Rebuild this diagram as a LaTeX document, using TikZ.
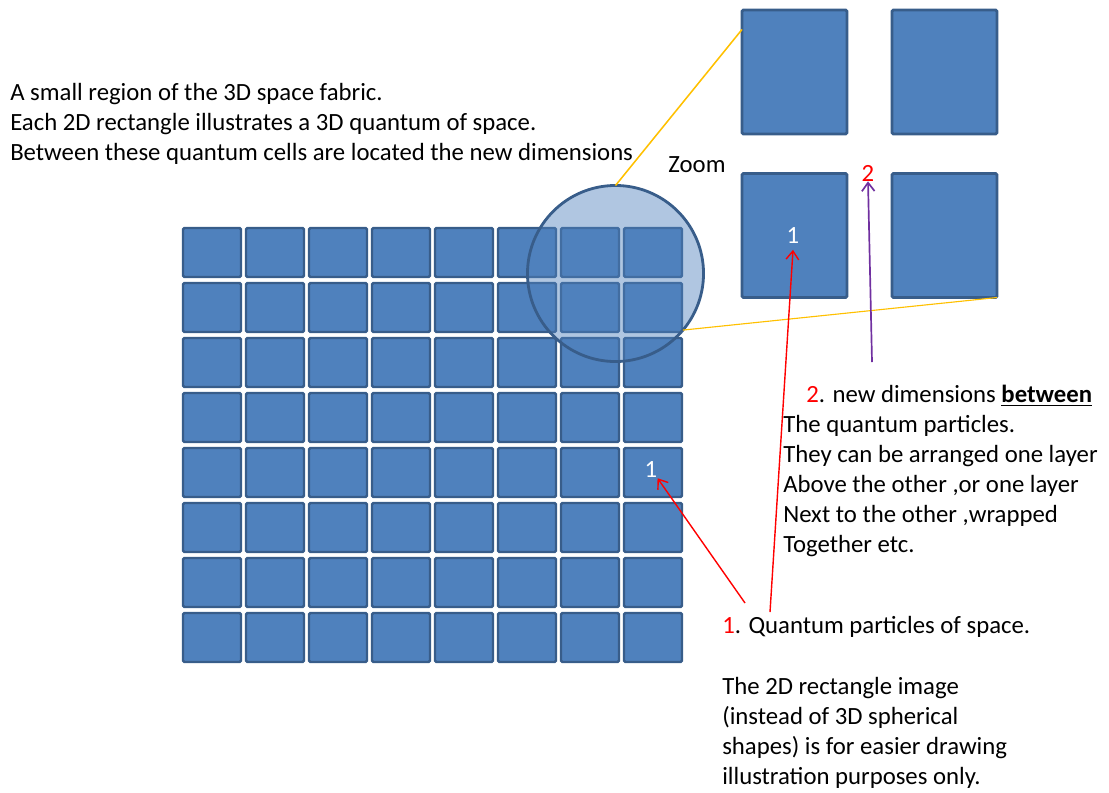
\documentclass[tikz,border=0pt]{standalone}
\usepackage{fontspec}
\setmainfont{Carlito}
\usepackage{tikz}
\usetikzlibrary{arrows.meta,positioning}
\definecolor{qsFill}  {RGB}{ 79,129,189}
\definecolor{qsEdge}  {RGB}{ 56, 93,138}
\definecolor{qsGold}  {RGB}{255,192,  0}
\definecolor{qsRed}   {RGB}{255,  0,  0}
\definecolor{qsPurple}{RGB}{112, 48,160}

\begin{document}
\begin{tikzpicture}[
  x=0.025cm, y=-0.025cm,
  every node/.style={font=\fontsize{17.6}{21.3}\selectfont},
  txt/.style={inner sep=0pt, align=left},
  cell/.style={draw=qsEdge, fill=qsFill, line width=1.7pt, rounded corners=1pt,
               outer sep=0pt, minimum width=1.45cm, minimum height=1.225cm},
  bigcell/.style={cell, line width=2pt, minimum width=2.625cm, minimum height=3.1cm},
  lens/.style={circle, draw=qsEdge, line width=2pt, fill=qsFill, fill opacity=0.45,
               outer sep=0pt, minimum size=4.4cm},
  pointer/.style={-{Straight Barb[length=6pt,width=9pt]}, line width=1pt}
]
\useasboundingbox (0,0) rectangle (1109,792);
% Grid of space cells
\foreach \r in {0,...,7}
  \foreach \c in {0,...,7}
    \node[cell] (c\r\c) at ({212+63*\c},{252.5+55*\r}) {};
\node[txt, text=white] (gone) at (651,470) {1};
% Zoom lens
\node[lens] (zc) at (615.5,273.5) {};
% Zoomed cells
\node[bigcell] (z1) at (794.5, 72) {};
\node[bigcell] (z2) at (944.5, 72) {};
\node[bigcell] (z3) at (794.5,235.5) {};
\node[bigcell] (z4) at (944.5,235.5) {};
\node[txt, text=white, inner sep=4pt] (zone) at (793,236) {1};
\node[txt, text=qsRed] (ztwo) at (868,173) {2};
\node[txt] (zoomlbl) at (697,165) {Zoom};
% Lens to zoom lines
\draw[qsGold, line width=1.1pt] (zc.north) -- (z1.141);
\draw[qsGold, line width=0.8pt] (zc.-40) -- (z4.south east);
% Texts
\node[txt, anchor=north west] (intro) at (10,83)
  {A small region of the 3D space fabric.\\
   Each 2D rectangle illustrates a 3D quantum of space.\\
   Between these quantum cells are located the new dimensions};
\node[txt, anchor=north west] (dims) at (783,385)
  {\hspace*{0.575cm}{\color{qsRed}2}. new dimensions \underline{\textbf{between}}\\
   The quantum particles.\\
   They can be arranged one layer\\
   Above the other ,or one layer\\
   Next to the other ,wrapped\\
   Together etc.};
\node[txt, anchor=west] (quanta) at (722,627)
  {{\color{qsRed}1}. Quantum particles of space.};
\node[txt, anchor=north west] (note) at (722,677)
  {The 2D rectangle image\\
   (instead of 3D spherical\\
   shapes) is for easier drawing\\
   illustration purposes only.};
% Pointers
\coordinate (p1) at (745,603);
\coordinate (p2) at (770,612);
\coordinate (p3) at (872,362);
\draw[pointer, qsRed] (p1) -- (gone.south east);
\draw[pointer, qsRed] (p2) -- (zone.south);
\draw[pointer, qsPurple, line width=1.2pt] (p3) -- (ztwo.south);
\end{tikzpicture}
\end{document}
